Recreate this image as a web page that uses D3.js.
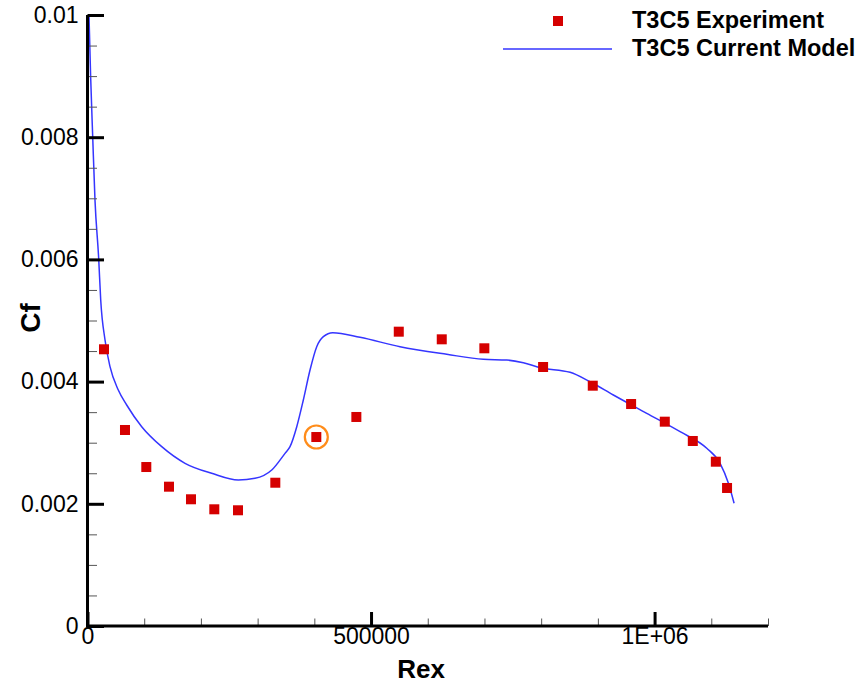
<!DOCTYPE html>
<html>
<head>
<meta charset="utf-8">
<script src="https://cdn.jsdelivr.net/npm/d3@7"></script>
<style>
  html, body { margin: 0; padding: 0; background: #fff; }
  svg { display: block; }
  text { font-family: "Liberation Sans", Arial, Helvetica, sans-serif; }
</style>
</head>
<body>
<svg id="chart" width="864" height="685"></svg>
<script>
// ---- data ----
const expRex = [29100, 66100, 103700, 143700, 182500, 223600, 265400, 331200, 403500, 474100,
                548900, 624700, 699800, 803400, 891000, 958600, 1018000, 1067400, 1108000, 1127800];
const expCf  = [0.004529, 0.003208, 0.002602, 0.002280, 0.002074, 0.001910, 0.001894, 0.002345, 0.003093, 0.003421,
                0.004817, 0.004692, 0.004545, 0.004239, 0.003933, 0.003633, 0.003344, 0.003028, 0.002689, 0.002259];
const modelRex = [2600, 5500, 9200, 13200, 19750, 23300, 30900, 39700, 54300, 69100, 95600, 130900, 172000,
                  219000, 266000, 295400, 324900, 348300, 357100, 369000, 380600, 392400, 404200, 415900,
                  432500, 480600, 551100, 633500, 698100, 739300, 768600, 798100, 851000, 886200, 927300,
                  986200, 1045000, 1092000, 1115500, 1130200, 1140200];
const modelCf  = [0.01000, 0.00900, 0.00800, 0.00697, 0.00601, 0.005336, 0.004681, 0.004244, 0.003863, 0.003617,
                  0.003262, 0.002935, 0.002663, 0.002499, 0.002390, 0.002417, 0.002553, 0.002826, 0.002935, 0.003262,
                  0.003699, 0.004190, 0.004571, 0.004735, 0.004800, 0.004725, 0.004571, 0.004447, 0.004365, 0.004353,
                  0.004309, 0.004228, 0.004152, 0.003998, 0.003781, 0.003481, 0.003180, 0.002908, 0.002663, 0.002335,
                  0.002008];
const highlightIndex = 8;  // circled experiment point
const xMajorTicks = [0, 500000, 1000000];
const xMajorLabels = ["0", "500000", "1E+06"];
const xMinorTicks = [100000, 200000, 300000, 400000, 600000, 700000, 800000, 900000, 1100000, 1200000];
const yMajorTicks = [0, 0.002, 0.004, 0.006, 0.008, 0.01];
const yMajorLabels = ["0", "0.002", "0.004", "0.006", "0.008", "0.01"];
const yMinorTicks = [0.0005, 0.001, 0.0015, 0.0025, 0.003, 0.0035, 0.0045, 0.005, 0.0055, 0.0065, 0.007, 0.0075, 0.0085, 0.009, 0.0095];
const seriesNames = ["T3C5 Experiment", "T3C5 Current Model"];

// ---- layout ----
const svg = d3.select("#chart");
const plotLeft = 87.5, plotRight = 768, plotTop = 15, plotBottom = 626;
const x = d3.scaleLinear().domain([0, 1200000]).range([plotLeft, plotRight]);
const y = d3.scaleLinear().domain([0, 0.01]).range([plotBottom, plotTop]);

// model line
const line = d3.line().x((d, i) => x(modelRex[i])).y((d, i) => y(modelCf[i])).curve(d3.curveMonotoneX);
svg.append("path").datum(modelCf).attr("d", line)
  .attr("fill", "none").attr("stroke", "#3535ff").attr("stroke-width", 1.5);

// experiment markers
const ms = 10;
svg.append("g").selectAll("rect").data(expCf).join("rect")
  .attr("x", (d, i) => x(expRex[i]) - ms / 2)
  .attr("y", d => y(d) - ms / 2)
  .attr("width", ms).attr("height", ms)
  .attr("fill", "#d50000");

// highlight circle
svg.append("circle")
  .attr("cx", x(expRex[highlightIndex])).attr("cy", y(expCf[highlightIndex]))
  .attr("r", 11.5).attr("fill", "none").attr("stroke", "#ff8c1a").attr("stroke-width", 2.2);

// y axis
const yMinor = d3.axisLeft(y).tickValues(yMinorTicks).tickFormat("").tickSizeInner(-9.5).tickSizeOuter(0);
svg.append("g").attr("transform", `translate(${plotLeft},0)`).call(yMinor)
  .call(g => g.select(".domain").remove())
  .call(g => g.selectAll("line").attr("stroke", "#555").attr("stroke-width", 1));
const yMajor = d3.axisLeft(y).tickValues(yMajorTicks).tickFormat((d, i) => yMajorLabels[i])
  .tickSizeInner(-16.5).tickSizeOuter(0).tickPadding(9);
svg.append("g").attr("transform", `translate(${plotLeft},0)`).call(yMajor)
  .call(g => g.select(".domain").remove())
  .call(g => g.selectAll("line").attr("stroke", "#000").attr("stroke-width", 3))
  .call(g => g.selectAll("text").attr("font-size", 23).attr("fill", "#000")
    .style("font-family", "'Liberation Sans', Arial, sans-serif"));

// x axis
const xMinor = d3.axisBottom(x).tickValues(xMinorTicks).tickFormat("").tickSizeInner(-7.5).tickSizeOuter(0);
svg.append("g").attr("transform", `translate(0,${plotBottom})`).call(xMinor)
  .call(g => g.select(".domain").remove())
  .call(g => g.selectAll("line").attr("stroke", "#555").attr("stroke-width", 1));
const xMajor = d3.axisBottom(x).tickValues(xMajorTicks).tickFormat((d, i) => xMajorLabels[i])
  .tickSizeInner(-14).tickSizeOuter(0).tickPadding(2);
svg.append("g").attr("transform", `translate(0,${plotBottom})`).call(xMajor)
  .call(g => g.select(".domain").remove())
  .call(g => g.selectAll("line").attr("stroke", "#000").attr("stroke-width", 3))
  .call(g => g.selectAll("text").attr("font-size", 23).attr("fill", "#000")
    .style("font-family", "'Liberation Sans', Arial, sans-serif"));

// axis lines
svg.append("line").attr("x1", plotLeft).attr("x2", plotLeft).attr("y1", y(0.01)).attr("y2", plotBottom + 1.5)
  .attr("stroke", "#000").attr("stroke-width", 3);
svg.append("line").attr("x1", plotLeft - 1.5).attr("x2", plotRight).attr("y1", plotBottom).attr("y2", plotBottom)
  .attr("stroke", "#000").attr("stroke-width", 3);

// axis titles
svg.append("text").attr("x", 421).attr("y", 678).attr("text-anchor", "middle")
  .attr("font-size", 26).attr("font-weight", "bold").text("Rex");
svg.append("text").attr("transform", "translate(40,318) rotate(-90)").attr("text-anchor", "middle")
  .attr("font-size", 28).attr("font-weight", "bold").text("Cf");

// legend
const lg = svg.append("g");
lg.append("rect").attr("x", 558 - ms / 2).attr("y", 21 - ms / 2).attr("width", ms).attr("height", ms).attr("fill", "#d50000");
lg.append("line").attr("x1", 503).attr("x2", 612).attr("y1", 49).attr("y2", 49)
  .attr("stroke", "#3535ff").attr("stroke-width", 1.5);
lg.append("text").attr("x", 632).attr("y", 28).attr("font-size", 23.5).attr("font-weight", "bold").text(seriesNames[0]);
lg.append("text").attr("x", 632).attr("y", 56).attr("font-size", 23.5).attr("font-weight", "bold").text(seriesNames[1]);
</script>
</body>
</html>
